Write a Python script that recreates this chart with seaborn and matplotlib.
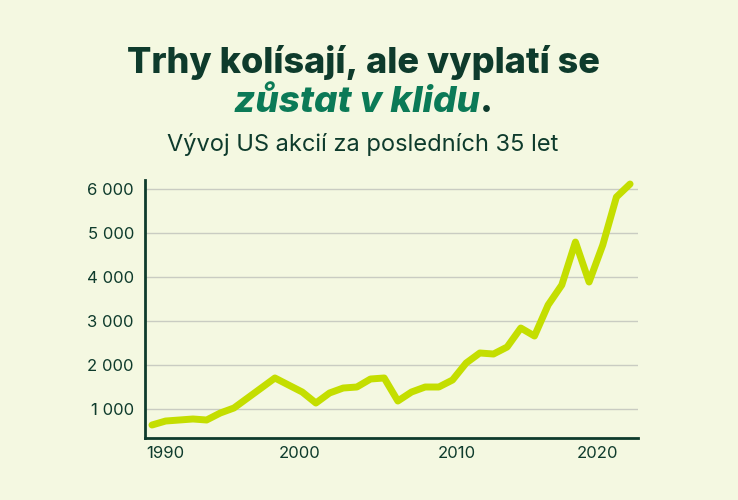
import matplotlib
matplotlib.use("Agg")
import matplotlib.pyplot as plt
import seaborn as sns
import pandas as pd

# ---- data ----
years = list(range(1989, 2025))
values = [636, 727, 750, 773, 750, 909, 1023, 1250, 1477, 1705,
          1545, 1386, 1136, 1364, 1477, 1500, 1682, 1705, 1182, 1386,
          1500, 1500, 1659, 2045, 2273, 2250, 2409, 2841, 2659, 3364,
          3818, 4795, 3886, 4727, 5818, 6114]
x_tick_positions = [1990, 1999.8, 2011.3, 2021.6]
x_tick_labels = ["1990", "2000", "2010", "2020"]
y_ticks = [1000, 2000, 3000, 4000, 5000, 6000]
y_tick_labels = ["1 000", "2 000", "3 000", "4 000", "5 000", "6 000"]

title_line1 = "Trhy kolísají, ale vyplatí se"
title_line2 = "zůstat v klidu"
subtitle = "Vývoj US akcií za posledních 35 let"

# ---- style ----
BG = "#F4F8E1"
DARK = "#0E3B2C"
GREEN = "#0B7A57"
LIME = "#C4DE00"
GRID = "#C9CCC2"

sns.set_theme(style="white")
plt.rcParams['font.family'] = ['Inter', 'DejaVu Sans']

fig = plt.figure(figsize=(7.38, 5.0), dpi=100, facecolor=BG)
ax = fig.add_axes([145 / 738, 62 / 500, 493 / 738, 258 / 500])
ax.set_facecolor(BG)

df = pd.DataFrame({"year": years, "value": values})
sns.lineplot(data=df, x="year", y="value", ax=ax, color=LIME, linewidth=5,
             solid_capstyle="round", solid_joinstyle="round")

ax.set_xlim(1988.49, 2024.58)
ax.set_ylim(341, 6205)
ax.set_xticks(x_tick_positions)
ax.set_xticklabels(x_tick_labels)
ax.set_yticks(y_ticks)
ax.set_yticklabels(y_tick_labels)
ax.set_xlabel("")
ax.set_ylabel("")
ax.tick_params(axis="both", length=0, labelsize=12, colors=DARK)
ax.tick_params(axis="y", pad=8)
ax.tick_params(axis="x", pad=6)
ax.yaxis.grid(True, color=GRID, linewidth=1)
ax.xaxis.grid(False)
ax.set_axisbelow(True)
for s in ["top", "right"]:
    ax.spines[s].set_visible(False)
for s in ["left", "bottom"]:
    ax.spines[s].set_color(DARK)
    ax.spines[s].set_linewidth(2)

# ---- titles ----
cx = 0.492
fig.text(cx, 1 - 62 / 500, title_line1, ha="center", va="center",
         fontsize=26, fontweight="heavy", color=DARK)

renderer = fig.canvas.get_renderer()
t2 = fig.text(0, 1 - 103 / 500, title_line2, ha="left", va="center",
              fontsize=26.5, fontweight="heavy", fontstyle="italic", color=GREEN)
dot = fig.text(0, 1 - 103 / 500, ".", ha="left", va="center",
               fontsize=26.5, fontweight="heavy", color=DARK)
w2 = t2.get_window_extent(renderer).width / (7.38 * 100)
wd = dot.get_window_extent(renderer).width / (7.38 * 100)
start = cx - (w2 + wd) / 2
t2.set_x(start)
dot.set_x(start + w2 + 0.0005)

fig.text(cx, 1 - 145 / 500, subtitle, ha="center", va="center",
         fontsize=17, color=DARK)

fig.savefig("out.png", dpi=100, facecolor=BG)
